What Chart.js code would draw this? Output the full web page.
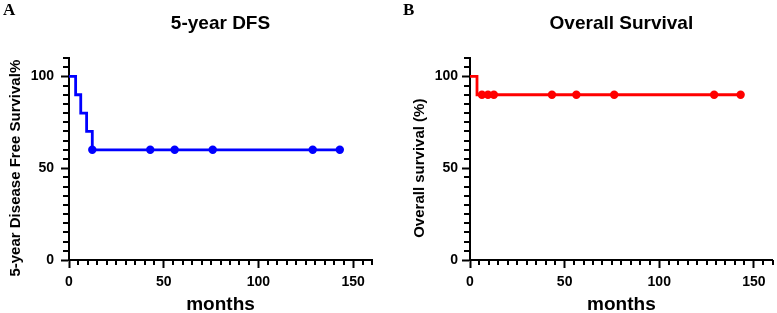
<!DOCTYPE html>
<html>
<head>
<meta charset="utf-8">
<script src="https://cdn.jsdelivr.net/npm/chart.js@4"></script>
<style>
  html, body { margin: 0; padding: 0; background: #fff; }
  #wrap { position: relative; width: 777px; height: 313px; overflow: hidden; }
  .panel { position: absolute; top: 0; height: 313px; }
  .letter { position: absolute; top: 0; font: bold 17px "Liberation Serif", "Times New Roman", serif; color: #000; }
</style>
</head>
<body>
<div id="wrap">
  <div class="panel" style="left:0;width:388px"><canvas id="chartA"></canvas></div>
  <div class="panel" style="left:388px;width:389px"><canvas id="chartB"></canvas></div>
  <div class="letter" style="left:3px">A</div>
  <div class="letter" style="left:403px">B</div>
</div>
<script>
// 5-year DFS (panel A)
const dfsTimes = [0, 3.5, 6.2, 9.3, 12.3, 143];
const dfsSurv = [100, 90, 80, 70, 60, 60];
const dfsCensorTimes = [12.3, 42.9, 55.8, 75.9, 128.7, 143];
const dfsCensorSurv = [60, 60, 60, 60, 60, 60];

// overall survival (panel B)
const osTimes = [0, 3.7, 143];
const osSurv = [100, 90, 90];
const osCensorTimes = [6.3, 9.5, 12.6, 43.3, 56.2, 76.2, 129, 143];
const osCensorSurv = [90, 90, 90, 90, 90, 90, 90, 90];

const xTicks = [0, 50, 100, 150];
const yTicks = [0, 50, 100];
const minorStep = 5;

const FONT = '"Liberation Sans", Arial, Helvetica, sans-serif';

const toPoints = (xs, ys) => xs.map((x, i) => ({x: x, y: ys[i]}));

// minor ticks + y axis title drawn on the scales
const axisExtras = {
  id: 'axisExtras',
  afterDraw(chart, args, opts) {
    const {ctx, chartArea, scales: {x, y}} = chart;
    ctx.save();
    ctx.strokeStyle = '#000';
    ctx.lineWidth = 2;
    ctx.beginPath();
    for (let v = y.min; v <= y.max; v += minorStep) {
      if (yTicks.includes(v)) continue;
      const py = Math.round(y.getPixelForValue(v));
      ctx.moveTo(chartArea.left - 6, py);
      ctx.lineTo(chartArea.left, py);
    }
    for (let v = x.min; v <= x.max; v += minorStep) {
      if (xTicks.includes(v)) continue;
      const px = Math.round(x.getPixelForValue(v));
      ctx.moveTo(px, chartArea.bottom);
      ctx.lineTo(px, chartArea.bottom + 5);
    }
    ctx.stroke();

    ctx.fillStyle = '#000';
    ctx.font = 'bold 15px ' + FONT;
    ctx.textAlign = 'center';
    ctx.textBaseline = 'middle';
    ctx.translate(opts.labelX, y.getPixelForValue(50));
    ctx.rotate(-Math.PI / 2);
    ctx.fillText(opts.label, 0, 0);
    ctx.restore();
  }
};

const survivalChart = (id, titulo, yTitulo, color, times, surv, cTimes, cSurv, yWidth, padRight, labelX, tickPad) => {
  const config = {
    type: 'scatter',
    data: {
      datasets: [
        {
          data: toPoints(times, surv),
          showLine: true,
          stepped: 'before',
          borderColor: color,
          borderWidth: 2.8,
          pointRadius: 0
        },
        {
          data: toPoints(cTimes, cSurv),
          showLine: false,
          pointRadius: 4.2,
          pointHoverRadius: 4.2,
          backgroundColor: color,
          borderColor: color,
          borderWidth: 0
        }
      ]
    },
    options: {
      responsive: true,
      maintainAspectRatio: false,
      animation: false,
      layout: {padding: {left: 0, right: padRight, top: 0, bottom: 0}},
      scales: {
        x: {
          type: 'linear',
          min: 0,
          max: 160,
          afterBuildTicks: s => { s.ticks = xTicks.map(v => ({value: v})); },
          afterFit: s => { s.height = 53; },
          border: {display: true, color: '#000', width: 2},
          grid: {drawOnChartArea: false, drawTicks: true, tickLength: 8, tickWidth: 2, tickColor: '#000'},
          ticks: {color: '#000', padding: 6, font: {family: FONT, size: 14, weight: 'bold'}},
          title: {
            display: true,
            text: 'months',
            color: '#000',
            padding: {top: 0, bottom: -3},
            font: {family: FONT, size: 19, weight: 'bold'}
          }
        },
        y: {
          type: 'linear',
          min: 0,
          max: 110,
          afterBuildTicks: s => { s.ticks = yTicks.map(v => ({value: v})); },
          afterFit: s => { s.width = yWidth; },
          border: {display: true, color: '#000', width: 2},
          grid: {drawOnChartArea: false, drawTicks: true, tickLength: 8, tickWidth: 2, tickColor: '#000'},
          ticks: {color: '#000', padding: tickPad, font: {family: FONT, size: 14, weight: 'bold'}}
        }
      },
      plugins: {
        legend: {display: false},
        tooltip: {enabled: false},
        title: {
          display: true,
          text: titulo,
          fullSize: false,
          color: '#000',
          padding: {top: 12.6, bottom: 22.6},
          font: {family: FONT, size: 19, weight: 'bold'}
        },
        axisExtras: {label: yTitulo, labelX: labelX}
      }
    },
    plugins: [axisExtras]
  };
  return new Chart(document.getElementById(id), config);
};

survivalChart('chartA', '5-year DFS', '5-year Disease Free Survival%', '#0000ff',
  dfsTimes, dfsSurv, dfsCensorTimes, dfsCensorSurv, 69, 16, 16, 7);
survivalChart('chartB', 'Overall Survival', 'Overall survival (%)', '#ff0000',
  osTimes, osSurv, osCensorTimes, osCensorSurv, 82, 2, 32, 4);
</script>
</body>
</html>
